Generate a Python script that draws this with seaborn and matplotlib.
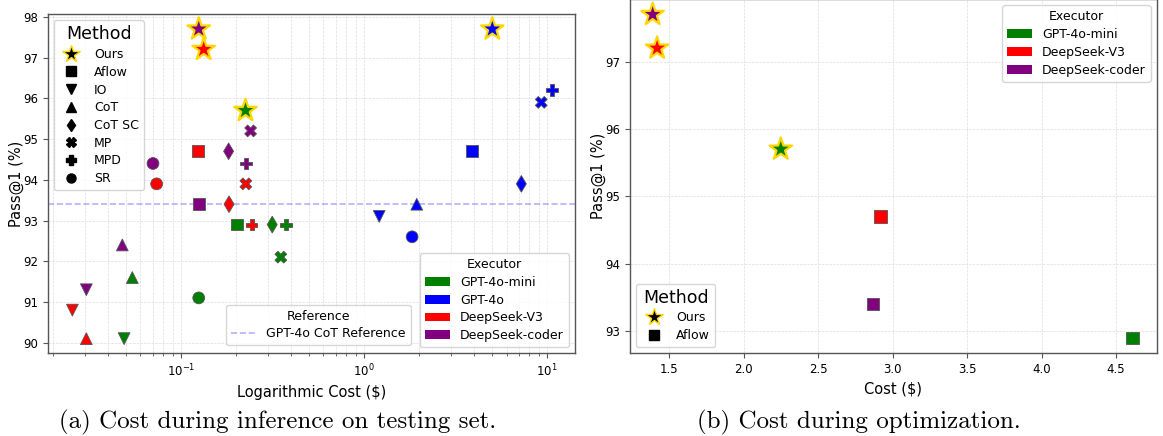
import numpy as np
import pandas as pd
import matplotlib
matplotlib.use("Agg")
import matplotlib.pyplot as plt
import seaborn as sns
from matplotlib.lines import Line2D
from matplotlib.patches import Patch

# ---------------- data ----------------
executors = ["GPT-4o-mini", "GPT-4o", "DeepSeek-V3", "DeepSeek-coder"]
executor_colors = ["green", "blue", "red", "purple"]
methods = ["Ours", "Aflow", "IO", "CoT", "CoT SC", "MP", "MPD", "SR"]
method_markers = ["*", "s", "v", "^", "d", "X", "P", "o"]

# (a) inference cost on testing set, values ordered like `executors`
cost_ours = [0.225, 5.02, 0.133, 0.125]
pass_ours = [95.7, 97.7, 97.2, 97.7]
cost_aflow = [0.202, 3.89, 0.124, 0.126]
pass_aflow = [92.9, 94.7, 94.7, 93.4]
cost_io = [0.0489, 1.21, 0.0255, 0.0304]
pass_io = [90.1, 93.1, 90.8, 91.3]
cost_cot = [0.0542, 1.94, 0.0304, 0.0478]
pass_cot = [91.6, 93.4, 90.1, 92.4]
cost_cotsc = [0.315, 7.23, 0.183, 0.182]
pass_cotsc = [92.9, 93.9, 93.4, 94.7]
cost_mp = [0.351, 9.29, 0.226, 0.240]
pass_mp = [92.1, 95.9, 93.9, 95.2]
cost_mpd = [0.376, 10.6, 0.243, 0.227]
pass_mpd = [92.9, 96.2, 92.9, 94.4]
cost_sr = [0.125, 1.83, 0.0736, 0.0703]
pass_sr = [91.1, 92.6, 93.9, 94.4]

reference_pass = 93.4  # GPT-4o CoT

# (b) optimization cost
opt_executors = ["GPT-4o-mini", "DeepSeek-V3", "DeepSeek-coder"]
opt_cost_ours = [2.25, 1.42, 1.39]
opt_pass_ours = [95.7, 97.2, 97.7]
opt_cost_aflow = [4.61, 2.92, 2.87]
opt_pass_aflow = [92.9, 94.7, 93.4]

# ---------------- tables ----------------
all_costs = [cost_ours, cost_aflow, cost_io, cost_cot, cost_cotsc, cost_mp, cost_mpd, cost_sr]
all_pass = [pass_ours, pass_aflow, pass_io, pass_cot, pass_cotsc, pass_mp, pass_mpd, pass_sr]
rows = []
for m, cs, ps in zip(methods, all_costs, all_pass):
    for e, c, p in zip(executors, cs, ps):
        rows.append({"Method": m, "Executor": e, "Cost": c, "Pass": p})
df_a = pd.DataFrame(rows)

rows = []
for m, cs, ps in [("Ours", opt_cost_ours, opt_pass_ours), ("Aflow", opt_cost_aflow, opt_pass_aflow)]:
    for e, c, p in zip(opt_executors, cs, ps):
        rows.append({"Method": m, "Executor": e, "Cost": c, "Pass": p})
df_b = pd.DataFrame(rows)

palette = dict(zip(executors, executor_colors))
marker_map = dict(zip(methods, method_markers))

# ---------------- figure ----------------
plt.rcParams["font.family"] = ["DejaVu Sans"]
fig = plt.figure(figsize=(11.63, 4.36), dpi=100)
W, H = 1163.0, 436.0
ax1 = fig.add_axes([47.7 / W, (H - 353.3) / H, (575 - 47.7) / W, (353.3 - 14) / H])
ax2 = fig.add_axes([630 / W, (H - 353.3) / H, (1157 - 630) / W, (353.3 + 1) / H])

SQ = 72
STAR = 290
EDGE = "#555555"

# panel (a)
others = df_a[df_a["Method"] != "Ours"]
sns.scatterplot(data=others, x="Cost", y="Pass", hue="Executor", style="Method",
                palette=palette, markers=marker_map, hue_order=executors,
                style_order=methods[1:], s=SQ, edgecolor=EDGE, linewidth=0.6,
                legend=False, ax=ax1, zorder=3)
sns.scatterplot(data=df_a[df_a["Method"] == "Ours"], x="Cost", y="Pass", hue="Executor",
                palette=palette, hue_order=executors, marker="*", s=STAR,
                edgecolor="gold", linewidth=1.6, legend=False, ax=ax1, zorder=4)
ax1.axhline(reference_pass, color="blue", alpha=0.3, linestyle="--", linewidth=1.2, zorder=2)
ax1.set_xscale("log")
ax1.set_xlim(0.0187, 14.2)
ax1.set_ylim(89.74, 98.07)
ax1.set_yticks([90, 91, 92, 93, 94, 95, 96, 97, 98])
ax1.set_xlabel("Logarithmic Cost ($)", fontsize=10.5)
ax1.set_ylabel("Pass@1 (%)", fontsize=10.5)
ax1.grid(True, which="both", linestyle="--", linewidth=0.5, color="#dddddd", zorder=0)
ax1.set_axisbelow(True)

# panel (b)
sns.scatterplot(data=df_b[df_b["Method"] == "Aflow"], x="Cost", y="Pass", hue="Executor",
                palette=palette, hue_order=opt_executors, marker="s", s=SQ + 10,
                edgecolor=EDGE, linewidth=0.6, legend=False, ax=ax2, zorder=3)
sns.scatterplot(data=df_b[df_b["Method"] == "Ours"], x="Cost", y="Pass", hue="Executor",
                palette=palette, hue_order=opt_executors, marker="*", s=STAR,
                edgecolor="gold", linewidth=1.6, legend=False, ax=ax2, zorder=4)
ax2.set_xlim(1.238, 4.775)
ax2.set_ylim(92.67, 97.93)
ax2.set_xticks([1.5, 2.0, 2.5, 3.0, 3.5, 4.0, 4.5])
ax2.set_yticks([93, 94, 95, 96, 97])
ax2.set_xlabel("Cost ($)", fontsize=10.5)
ax2.set_ylabel("Pass@1 (%)", fontsize=10.5)
ax2.grid(True, which="major", linestyle="--", linewidth=0.5, color="#dddddd", zorder=0)
ax2.set_axisbelow(True)

for ax in (ax1, ax2):
    for sp in ax.spines.values():
        sp.set_color(EDGE)
        sp.set_linewidth(1.0)
    ax.tick_params(axis="both", which="both", labelsize=8.5, color=EDGE)
    ax.yaxis.set_label_coords(-0.045, 0.5)

LS = 0.38

# legends (a)
def method_handles(names):
    hs = []
    for m in names:
        mk = marker_map[m]
        if mk == "*":
            hs.append(Line2D([], [], linestyle="none", marker="*", markersize=13,
                             markerfacecolor="black", markeredgecolor="gold",
                             markeredgewidth=1.0, label=m))
        else:
            hs.append(Line2D([], [], linestyle="none", marker=mk, markersize=6.5,
                             markerfacecolor="black", markeredgecolor="black", label=m))
    return hs

leg_m = ax1.legend(handles=method_handles(methods), title="Method", loc="upper left",
                   fontsize=9, title_fontsize=12.5, labelspacing=LS)
ax1.add_artist(leg_m)
exec_handles = [Patch(facecolor=c, edgecolor="none", label=e)
                for e, c in zip(executors, executor_colors)]
leg_e = ax1.legend(handles=exec_handles, title="Executor", loc="lower right",
                   fontsize=9, title_fontsize=9, labelspacing=LS)
ax1.add_artist(leg_e)
ref_handle = Line2D([], [], color="blue", alpha=0.3, linestyle="--", linewidth=1.2,
                    label="GPT-4o CoT Reference")
ax1.legend(handles=[ref_handle], title="Reference", loc="lower right",
           bbox_to_anchor=(0.70, 0.005), fontsize=9, title_fontsize=9, labelspacing=LS)

# legends (b)
exec_handles_b = [Patch(facecolor=palette[e], edgecolor="none", label=e) for e in opt_executors]
leg_eb = ax2.legend(handles=exec_handles_b, title="Executor", loc="upper right",
                    fontsize=9, title_fontsize=9, labelspacing=LS)
ax2.add_artist(leg_eb)
ax2.legend(handles=method_handles(["Ours", "Aflow"]), title="Method", loc="lower left",
           fontsize=9, title_fontsize=12.5, labelspacing=LS)

# captions
fig.text(59 / W, 1 - 422 / H, "(a) Cost during inference on testing set.",
         family="cmr10", fontsize=18, ha="left", va="center")
fig.text(697 / W, 1 - 422 / H, "(b) Cost during optimization.",
         family="cmr10", fontsize=18, ha="left", va="center")

fig.savefig("out.png", dpi=100)
